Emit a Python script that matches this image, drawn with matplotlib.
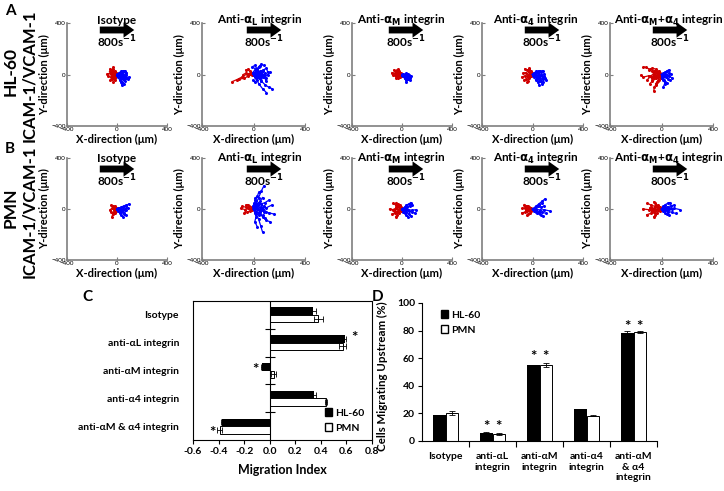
import numpy as np
import matplotlib
matplotlib.use('Agg')
import matplotlib.pyplot as plt
from matplotlib.patches import Patch

plt.rcParams['font.family'] = ['Lato', 'DejaVu Sans']
plt.rcParams['mathtext.fontset'] = 'dejavusans'

#%% data
# cell tracks (um), one flat list x1,y1,x2,y2,... per track, all start at the origin
tracks = {
    ('A', 0): {
        'red': [[-10, 8, -25, 15, -40, 30, -55, 45], [-15, -5, -30, -10, -50, -20, -70, -15],
                [-8, 12, -20, 25, -35, 40, -30, 55], [-12, -10, -25, -25, -40, -35, -55, -45],
                [-20, 5, -35, 0, -55, 10, -78, 5], [-5, -15, -15, -30, -20, -45, -30, -55],
                [-18, 20, -30, 10, -45, 20, -60, 25], [-10, 0, -20, 10, -30, -5, -45, 5]],
        'blue': [[15, 5, 30, 0, 50, -10, 70, -5], [10, -10, 25, -20, 45, -35, 60, -50],
                 [20, 10, 40, 20, 55, 25, 75, 15], [12, -15, 30, -30, 40, -55, 55, -70],
                 [25, 0, 45, -15, 70, -25, 92, -20], [8, -20, 20, -40, 30, -60, 40, -85],
                 [18, 15, 35, 25, 50, 30, 65, 28], [20, -5, 40, -5, 60, -15, 85, -35],
                 [30, -20, 45, 5, 60, -30, 70, 10]]},
    ('A', 1): {
        'red': [[-20, 10, -50, 5, -90, -20, -130, -40, -165, -55], [-15, -5, -40, -10, -70, -30, -110, -35],
                [-10, 15, -30, 25, -45, 40, -60, 35], [-25, 5, -45, -5, -60, 10, -80, 0]],
        'blue': [[20, 30, 40, 60, 60, 80, 80, 70], [30, -20, 60, -50, 90, -80, 120, -100, 145, -110],
                 [20, -30, 40, -70, 70, -110, 100, -140], [40, 10, 70, 30, 100, 50, 110, 20],
                 [30, 40, 10, 70, -10, 60, 20, 40], [50, -10, 80, -20, 110, 0, 130, 20],
                 [10, -20, 30, -40, 10, -60, -5, -45], [40, 20, 60, -10, 90, 10, 100, -30],
                 [15, 10, 35, 25, 55, 15, 75, 35], [25, -10, 50, -30, 70, -20, 60, -50],
                 [-5, 15, 10, 35, 30, 45, 50, 65], [35, 5, 60, 10, 85, -5, 95, -50],
                 [20, 0, 50, 20, 40, -20, 70, 0, 55, 30]]},
    ('A', 2): {
        'red': [[-15, 5, -30, 15, -50, 25, -65, 35], [-10, -8, -30, -15, -50, -10, -75, -5],
                [-20, 10, -40, 5, -60, 10, -80, 15], [-8, -10, -20, -20, -35, -25, -45, -30],
                [-12, 15, -25, 30, -40, 35, -30, 40], [-25, 0, -40, 20, -55, 0, -45, -15]],
        'blue': [[10, 5, 25, 0, 40, -10, 55, -5], [15, -10, 30, -20, 45, -30, 60, -40],
                 [8, -15, 20, -30, 30, -45, 35, -55], [20, 0, 35, 10, 50, 5, 70, -10],
                 [12, -5, 25, -15, 45, -20, 65, -25], [20, -25, 35, -5, 50, -35, 30, 5]]},
    ('A', 3): {
        'red': [[-15, 10, -30, 20, -45, 35, -60, 45], [-20, -5, -40, -15, -60, -10, -85, -20],
                [-10, -15, -25, -30, -35, -50, -45, -62], [-18, 5, -35, 0, -55, 15, -75, 10],
                [-12, -10, -30, -20, -50, -35, -65, -40], [-5, 15, -15, 30, -30, 40, -25, 48]],
        'blue': [[20, 10, 40, 20, 60, 25, 80, 30], [15, -15, 35, -30, 55, -50, 75, -70],
                 [25, 0, 50, -10, 75, -15, 100, -25], [10, -20, 25, -40, 40, -60, 55, -85],
                 [30, -5, 55, -20, 80, -35, 110, -40], [20, 15, 45, 10, 70, 0, 95, 5],
                 [15, -5, 35, -25, 60, -40, 85, -60], [10, 10, 30, 25, 50, 30, 65, 20],
                 [35, -30, 50, 0, 70, -50, 90, -15]]},
    ('A', 4): {
        'red': [[-20, 15, -50, 30, -90, 40, -120, 55, -140, 60], [-25, -10, -60, -20, -100, -10, -140, -20, -160, -5],
                [-15, -20, -30, -50, -45, -80, -55, -100, -60, -125], [-30, 5, -60, 10, -80, -10, -110, -40],
                [-10, -15, -40, -30, -70, -50, -90, -70], [-20, 25, -40, 40, -70, 50, -100, 35],
                [-35, -5, -55, -25, -75, -30, -95, -15], [-15, 10, -35, 20, -55, 5, -70, 25],
                [-5, -30, -20, -45, -35, -60, -45, -70], [-30, -20, -50, 10, -70, -40, -60, 0]],
        'blue': [[15, 10, 30, 20, 45, 30, 55, 35], [20, -5, 40, -15, 60, -10, 78, -25],
                 [10, -20, 20, -45, 25, -70, 15, -95], [15, -10, 35, -20, 50, -35, 65, -40],
                 [25, 5, 45, 0, 60, 15, 70, 5], [5, -25, 15, -40, 30, -55, 40, -65]]},
    ('B', 0): {
        'red': [[-10, 5, -20, 15, -35, 25, -45, 30], [-15, -10, -25, -25, -35, -40, -40, -60],
                [-12, 0, -25, -5, -40, 5, -55, -5], [-8, -15, -15, -30, -30, -35, -45, -25],
                [-5, 10, -15, 20, -25, 10, -35, 20]],
        'blue': [[15, 5, 35, 15, 55, 25, 75, 30], [10, -15, 25, -30, 35, -45, 45, -60],
                 [20, 0, 40, -5, 65, 0, 90, 10], [15, -10, 35, -20, 55, -30, 70, -45],
                 [25, 10, 45, 15, 70, 25, 95, 40], [10, 5, 25, -5, 40, -15, 60, -10],
                 [30, -25, 45, 0, 55, -40, 70, -10]]},
    ('B', 1): {
        'red': [[-15, 5, -35, 10, -60, 15, -90, 20], [-10, -10, -30, -15, -50, -25, -70, -30],
                [-20, 0, -40, 5, -65, -5, -100, 5], [-15, 15, -35, 25, -45, 35, -60, 30]],
        'blue': [[20, 40, 40, 90, 60, 140, 80, 180], [30, 20, 60, 40, 90, 50, 120, 70],
                 [40, -10, 80, -20, 120, -30, 160, -40], [20, -40, 40, -80, 55, -130, 70, -180],
                 [10, -30, 20, -60, 10, -100, 30, -140], [30, 0, 60, 15, 100, 10, 140, 30],
                 [15, 30, 10, 70, 30, 100, 40, 130], [40, -30, 70, -60, 100, -90, 130, -100],
                 [25, 10, 50, -20, 70, 0, 100, -20], [10, 20, 30, 40, 50, 60, 70, 90],
                 [20, -20, 45, -45, 70, -50, 90, -70], [-5, 20, 5, 45, 20, 60, 15, 90],
                 [30, 30, 60, -10, 40, 50, 80, 20, 50, -40]]},
    ('B', 2): {
        'red': [[-15, 10, -30, 20, -50, 30, -70, 45], [-20, -10, -40, -20, -60, -30, -80, -40],
                [-10, -15, -25, -30, -40, -45, -50, -60], [-25, 0, -50, 5, -75, -5, -100, 0],
                [-10, 15, -20, 30, -35, 40, -45, 50], [-30, -20, -45, 15, -60, -15, -40, 25]],
        'blue': [[20, 10, 40, 15, 60, 25, 80, 35], [15, -15, 35, -25, 55, -40, 70, -55],
                 [25, 0, 50, -5, 80, -10, 115, -5], [10, -20, 25, -35, 35, -50, 45, -60],
                 [20, 15, 35, 30, 55, 40, 70, 50], [30, -5, 55, -15, 80, -25, 100, -30]]},
    ('B', 3): {
        'red': [[-15, 10, -30, 15, -50, 25, -65, 35], [-20, -10, -40, -15, -60, -25, -85, -30],
                [-10, -15, -20, -30, -35, -40, -45, -50], [-20, 5, -40, 0, -60, 10, -80, 5],
                [-30, -5, -45, 20, -55, -10, -35, 25]],
        'blue': [[20, 10, 45, 20, 70, 15, 95, 25], [15, -15, 35, -30, 60, -40, 80, -55],
                 [25, 20, 50, 40, 75, 60, 100, 80], [30, 0, 60, -10, 90, -5, 135, -15],
                 [10, -10, 30, -20, 50, -30, 65, -45], [20, 5, 40, 25, 55, 30, 75, 45],
                 [25, -5, 50, -20, 75, -25, 110, -35]]},
    ('B', 4): {
        'red': [[-20, 10, -50, 20, -80, 30, -110, 45], [-25, -10, -55, -20, -85, -35, -115, -45],
                [-30, 0, -60, 5, -100, -5, -145, 0], [-15, 15, -30, 30, -50, 45, -60, 55],
                [-15, -15, -35, -30, -50, -50, -60, -60], [-25, 5, -45, -10, -70, -5, -90, 10],
                [-10, -5, -30, -10, -55, 0, -75, -15], [-40, 20, -60, -20, -80, 15, -50, -30]],
        'blue': [[20, 10, 45, 15, 70, 25, 95, 30], [25, -10, 50, -20, 80, -25, 110, -35],
                 [30, 5, 60, 0, 100, 5, 145, -5], [15, 20, 30, 35, 50, 45, 65, 50],
                 [15, -15, 30, -30, 45, -40, 60, -50], [20, 0, 40, -5, 60, 10, 80, 0]]},
}

track_titles = ['Isotype', r'Anti-$\mathbf{\alpha_L}$ integrin', r'Anti-$\mathbf{\alpha_M}$ integrin',
                r'Anti-$\mathbf{\alpha_4}$ integrin', r'Anti-$\mathbf{\alpha_M}$+$\mathbf{\alpha_4}$ integrin']

# panel C - migration index
mi_labels = ['Isotype', 'anti-αL integrin', 'anti-αM integrin', 'anti-α4 integrin', 'anti-αM & α4 integrin']
mi_hl60 = [0.34, 0.59, -0.06, 0.35, -0.37]
mi_hl60_err = [0.02, 0.01, 0.01, 0.01, 0.01]
mi_pmn = [0.38, 0.57, 0.03, 0.44, -0.39]
mi_pmn_err = [0.035, 0.03, 0.02, 0.01, 0.02]

# panel D - cells migrating upstream
up_labels = ['Isotype', 'anti-αL\nintegrin', 'anti-αM\nintegrin', 'anti-α4\nintegrin', 'anti-αM\n& α4\nintegrin']
up_hl60 = [18.5, 5.8, 55.0, 23.0, 78.5]
up_hl60_err = [0.4, 0.4, 0.4, 0.2, 1.0]
up_pmn = [20.0, 5.2, 55.0, 18.3, 79.0]
up_pmn_err = [1.5, 0.5, 1.5, 0.3, 0.5]

#%% layout helpers (pixel positions of the 724x491 figure)
W, H = 724, 491
def fx(px):
    return px / W
def fy(py):
    return 1 - py / H

fig = plt.figure(figsize=(7.24, 4.91), dpi=100)

rows = {'A': (23, 126), 'B': (158, 260)}
cols = [(67, 167), (202, 305), (352, 452), (482, 583), (610, 713)]
title_cx = [117, 260, 401, 536, 669]
arrow_cx = [117, 264, 406, 542, 670]
text_y = {'A': (20, 30, 42), 'B': (158, 169, 181)}
axis_gray = '#7f7f7f'

#%% A/B: track plots
for row, (top, bot) in rows.items():
    for i, (l, r) in enumerate(cols):
        ax = fig.add_axes([fx(l), fy(bot), (r - l) / W, (bot - top) / H])
        for color, c in [('red', '#d00000'), ('blue', '#0000ff')]:
            for t in tracks[(row, i)][color]:
                x = [0] + t[0::2]
                y = [0] + t[1::2]
                ax.plot(x, y, '-o', color=c, lw=0.9, ms=2.2, mew=0)
        ax.set_xlim(-400, 400)
        ax.set_ylim(-400, 400)
        ax.set_xticks([-400, 0, 400])
        ax.set_yticks([-400, 0, 400])
        ax.tick_params(labelsize=4.5, length=2, direction='in', pad=1, color=axis_gray)
        for s in ['top', 'right']:
            ax.spines[s].set_visible(False)
        for s in ['left', 'bottom']:
            ax.spines[s].set_color(axis_gray)
            ax.spines[s].set_linewidth(1.2)
        ax.set_xlabel('X-direction (μm)', fontsize=8, fontweight='bold', labelpad=1)
        ax.set_ylabel('Y-direction (μm)', fontsize=8, fontweight='bold', labelpad=1)

        ty, ay, ry = text_y[row]
        fig.text(fx(title_cx[i]), fy(ty), track_titles[i], ha='center', va='center',
                 fontsize=8.5, fontweight='bold')
        fig.text(fx(arrow_cx[i]), fy(ry), r'800s$^{\mathbf{-1}}$', ha='center', va='center',
                 fontsize=8.5, fontweight='bold')
        ax.annotate('', xy=(arrow_cx[i] + 20, H - ay), xytext=(arrow_cx[i] - 20, H - ay),
                    xycoords='figure pixels', textcoords='figure pixels',
                    arrowprops=dict(arrowstyle='simple,head_length=0.7,head_width=1.0,tail_width=0.45',
                                    mutation_scale=11, fc='k', ec='k', lw=0))

fig.text(fx(5), fy(11), 'A', fontsize=11, fontweight='bold', va='center')
fig.text(fx(5), fy(149), 'B', fontsize=11, fontweight='bold', va='center')
for label, y0 in [('HL-60', 72), ('PMN', 208)]:
    fig.text(fx(11), fy(y0), label, rotation=90, ha='center', va='center', fontsize=12.5, fontweight='bold')
    fig.text(fx(29), fy(y0 + 4), 'ICAM-1/VCAM-1', rotation=90, ha='center', va='center',
             fontsize=12, fontweight='bold')

#%% C: migration index
axc = fig.add_axes([fx(193), fy(440), 179 / W, 139 / H])
yc = np.arange(len(mi_labels))
bh = 0.27
ekw = dict(elinewidth=0.6, capthick=0.6)
axc.barh(yc - bh / 2, mi_hl60, height=bh, color='k', xerr=mi_hl60_err, capsize=2, error_kw=ekw)
axc.barh(yc + bh / 2, mi_pmn, height=bh, color='white', edgecolor='k', lw=0.7,
         xerr=mi_pmn_err, capsize=2, error_kw=ekw)
axc.axvline(0, color='k', lw=0.8)
axc.plot(np.zeros(4), yc[:-1] + 0.5, ls='none', marker='_', ms=7, mew=0.8, color='k')
axc.set_ylim(4.5, -0.5)
axc.set_xlim(-0.6, 0.8)
axc.set_yticks(yc)
axc.set_yticklabels(mi_labels, fontsize=7.5, fontweight='bold')
axc.tick_params(axis='y', length=0, pad=10)
axc.set_xticks(np.arange(-0.6, 0.81, 0.2))
axc.set_xticklabels(['%.1f' % v for v in np.arange(-0.6, 0.81, 0.2)], fontsize=7.5, fontweight='bold')
axc.tick_params(axis='x', length=3, width=0.8, pad=2)
for s in axc.spines.values():
    s.set_linewidth(0.8)
axc.set_xlabel('Migration Index', fontsize=9, fontweight='bold', labelpad=6)
axc.text(0.66, 1 - bh / 2 - 0.05, '*', fontsize=11, fontweight='bold', ha='center', va='center')
axc.text(-0.11, 2 - bh / 2 + 0.1, '*', fontsize=11, fontweight='bold', ha='center', va='center')
axc.text(-0.45, 4 + bh / 2 + 0.1, '*', fontsize=11, fontweight='bold', ha='center', va='center')
hc = [Patch(fc='k', ec='k'), Patch(fc='white', ec='k')]
axc.legend(hc, ['HL-60', 'PMN'], loc='lower right', frameon=False, handlelength=0.7, handleheight=0.9,
           handletextpad=0.3, labelspacing=0.5, borderaxespad=0.3,
           prop={'size': 7.5, 'weight': 'bold'})
fig.text(fx(82), fy(297), 'C', fontsize=11, fontweight='bold', va='center')

#%% D: cells migrating upstream
axd = fig.add_axes([fx(422), fy(441), 235 / W, 138 / H])
xd = np.arange(len(up_labels))
bw = 0.26
axd.bar(xd - bw / 2, up_hl60, width=bw, color='k', yerr=up_hl60_err, capsize=2, error_kw=ekw)
axd.bar(xd + bw / 2, up_pmn, width=bw, color='white', edgecolor='k', lw=0.7,
        yerr=up_pmn_err, capsize=2, error_kw=ekw)
axd.set_xlim(-0.5, 4.5)
axd.set_ylim(0, 100)
axd.set_yticks(np.arange(0, 101, 20))
axd.set_yticklabels([str(v) for v in range(0, 101, 20)], fontsize=7.5, fontweight='bold')
axd.set_xticks(xd)
axd.set_xticklabels(up_labels, fontsize=7.5, fontweight='bold', linespacing=1.2, va='top')
axd.set_xticks(xd[:] + 0.5, minor=True)
axd.tick_params(axis='x', which='major', length=0, pad=8)
axd.tick_params(axis='x', which='minor', length=4, width=0.8)
axd.tick_params(axis='y', length=3, width=0.8, pad=2)
for s in ['top', 'right']:
    axd.spines[s].set_visible(False)
for s in ['left', 'bottom']:
    axd.spines[s].set_linewidth(0.8)
axd.set_ylabel('Cells Migrating Upstream (%)', fontsize=8.3, fontweight='bold', labelpad=3)
axd.yaxis.set_label_coords(-0.145, 0.47)
for i, k in [(1, 10), (2, 61), (4, 82.5)]:
    axd.text(i - bw / 2, k, '*', fontsize=11, fontweight='bold', ha='center', va='center')
    axd.text(i + bw / 2, k, '*', fontsize=11, fontweight='bold', ha='center', va='center')
axd.legend(hc, ['HL-60', 'PMN'], loc='upper left', frameon=False, handlelength=0.7, handleheight=0.9,
           handletextpad=0.3, labelspacing=0.5, bbox_to_anchor=(0.04, 1.02),
           prop={'size': 7.5, 'weight': 'bold'})
fig.text(fx(372), fy(297), 'D', fontsize=11, fontweight='bold', va='center')

plt.savefig('out.png', dpi=100)
